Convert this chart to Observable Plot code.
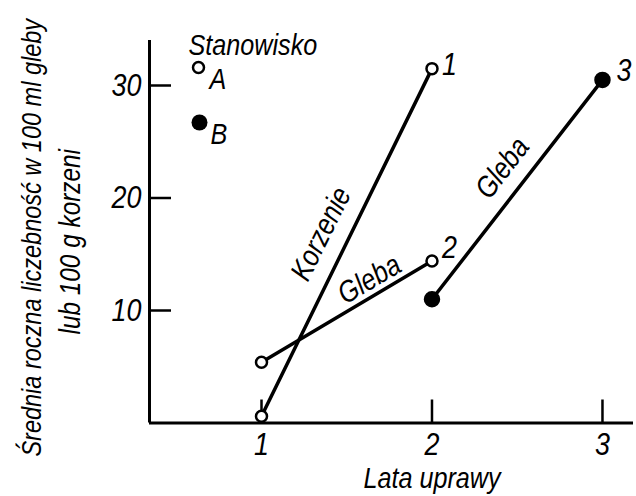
<!DOCTYPE html>
<html><head><meta charset="utf-8">
<script src="https://cdn.jsdelivr.net/npm/d3@7"></script>
<script src="https://cdn.jsdelivr.net/npm/@observablehq/plot@0.6"></script>
<style>
html,body{margin:0;padding:0;background:#fff;}
#chart svg{display:block;}
</style></head><body><div id="chart"></div>
<script>
// ---- data ----
const xTicks = [1, 2, 3];
const yTicks = [10, 20, 30];
const seriesNames = ["Korzenie", "Gleba", "Gleba"];
const seriesStation = ["A", "A", "B"];
const seriesNumber = ["1", "2", "3"];
const seriesYears = [[1, 2], [1, 2], [2, 3]];
const seriesValues = [[0.6, 31.5], [5.4, 14.4], [11.0, 30.5]];
const stations = ["A", "B"];
const legendTitle = "Stanowisko";
const xLabel = "Lata uprawy";
const yLabelLines = ["Średnia roczna liczebność w 100 ml gleby", "lub 100 g korzeni"];

// ---- layout / style (not data) ----
const labelLayout = [
  {t: 0.49, dx: -24, dy: -12, rotate: -63.7},
  {t: 0.68, dx: -8, dy: -14, rotate: -30.4},
  {t: 0.53, dx: -20, dy: -15, rotate: -52.3}
];
const endLayout = [{dx: 10, dy: -4}, {dx: 10, dy: -13}, {dx: 14, dy: -9}];
const FONT = '"Liberation Sans", Arial, sans-serif';
const CONDENSE = 0.84;

const points = [];
seriesNames.forEach((name, i) => {
  seriesYears[i].forEach((yr, j) => {
    points.push({id: i, name, station: seriesStation[i], x: yr, y: seriesValues[i][j], end: j === seriesYears[i].length - 1});
  });
});
const labels = seriesNames.map((name, i) => {
  const L = labelLayout[i];
  const [x0, x1] = seriesYears[i], [y0, y1] = seriesValues[i];
  return {name, x: x0 + (x1 - x0) * L.t, y: y0 + (y1 - y0) * L.t, ...L};
});
const ends = points.filter(d => d.end).map(d => ({...d, num: seriesNumber[d.id], ...endLayout[d.id]}));

const xDomain = [0.343, 3.182];
const W = 636, H = 496, mL = 149, mR = 3, mT = 40, mB = 73.5;
const frameW = W - mL - mR, frameH = H - mT - mB;

const marks = [
  // axis lines
  Plot.ruleX([xDomain[0]], {strokeWidth: 3}),
  Plot.ruleY([0], {strokeWidth: 3}),
  // inward ticks
  Plot.ruleY(yTicks, {y: d => d, strokeWidth: 2.5, insetRight: frameW - 22}),
  Plot.ruleX(xTicks, {x: d => d, strokeWidth: 2.5, insetTop: frameH - 23}),
  Plot.axisY(yTicks, {tickSize: 0, tickPadding: 8, fontSize: 32, label: null, tickFormat: d => String(d)}),
  Plot.axisX(xTicks, {tickSize: 0, tickPadding: 9, fontSize: 32, label: null, tickFormat: d => String(d)}),
  // lines
  Plot.line(points, {x: "x", y: "y", z: "id", stroke: "#000", strokeWidth: 3.5}),
  Plot.dot(points.filter(d => d.station === "A"), {x: "x", y: "y", r: 5.5, fill: "#fff", stroke: "#000", strokeWidth: 2.5}),
  Plot.dot(points.filter(d => d.station === "B"), {x: "x", y: "y", r: 7.5, fill: "#000", stroke: "#000"}),
  // end numbers
  ...ends.map(d => Plot.text([d], {x: "x", y: "y", text: "num", textAnchor: "start", dx: d.dx, dy: d.dy, fontSize: 32})),
  // line labels
  ...labels.map(d => Plot.text([d], {x: "x", y: "y", text: "name", rotate: d.rotate, dx: d.dx, dy: d.dy, fontSize: 30})),
  // axis titles
  Plot.text([xLabel], {x: () => xTicks[1], frameAnchor: "bottom", text: d => d, dy: 65, fontSize: 30}),
  Plot.text([yLabelLines[0]], {frameAnchor: "left", text: d => d, textAnchor: "middle", rotate: -90, dx: -117, dy: 6, fontSize: 28}),
  Plot.text([yLabelLines[1]], {frameAnchor: "left", text: d => d, textAnchor: "middle", rotate: -90, dx: -79, dy: 10, fontSize: 29}),
  // legend
  Plot.text([legendTitle], {frameAnchor: "top-left", text: d => d, textAnchor: "start", dx: 39, dy: -7, fontSize: 30}),
  Plot.dot([stations[0]], {frameAnchor: "top-left", dx: 49, dy: 27, r: 5.5, fill: "#fff", stroke: "#000", strokeWidth: 2.5}),
  Plot.text([stations[0]], {frameAnchor: "top-left", text: d => d, textAnchor: "start", dx: 60, dy: 27, fontSize: 30}),
  Plot.dot([stations[1]], {frameAnchor: "top-left", dx: 50, dy: 82, r: 8, fill: "#000"}),
  Plot.text([stations[1]], {frameAnchor: "top-left", text: d => d, textAnchor: "start", dx: 61, dy: 82, fontSize: 30})
];

const plot = Plot.plot({
  width: W, height: H,
  marginLeft: mL, marginRight: mR, marginTop: mT, marginBottom: mB,
  x: {domain: xDomain},
  y: {domain: [0, 34]},
  style: {fontFamily: FONT, fontStyle: "italic", color: "#000", background: "#fff", overflow: "visible"},
  marks
});
document.getElementById("chart").appendChild(plot);
// condense glyphs horizontally (along the text direction) to mimic the narrow lettering
function toPx(v, fs) {
  if (v == null) return 0;
  const n = parseFloat(v);
  if (!isFinite(n)) return 0;
  return /em$/.test(v.trim()) ? n * fs : n;
}
plot.querySelectorAll("text").forEach(t => {
  const fs = parseFloat(getComputedStyle(t).fontSize) || 16;
  const x = toPx(t.getAttribute("x"), fs);
  const y = toPx(t.getAttribute("y"), fs);
  const dy = toPx(t.getAttribute("dy"), fs);
  const dx = toPx(t.getAttribute("dx"), fs);
  ["x", "y", "dx", "dy"].forEach(a => t.removeAttribute(a));
  const prev = t.getAttribute("transform") || "";
  t.setAttribute("transform", `${prev} translate(${x + dx},${y + dy}) scale(${CONDENSE},1)`.trim());
});
</script>
</body></html>
